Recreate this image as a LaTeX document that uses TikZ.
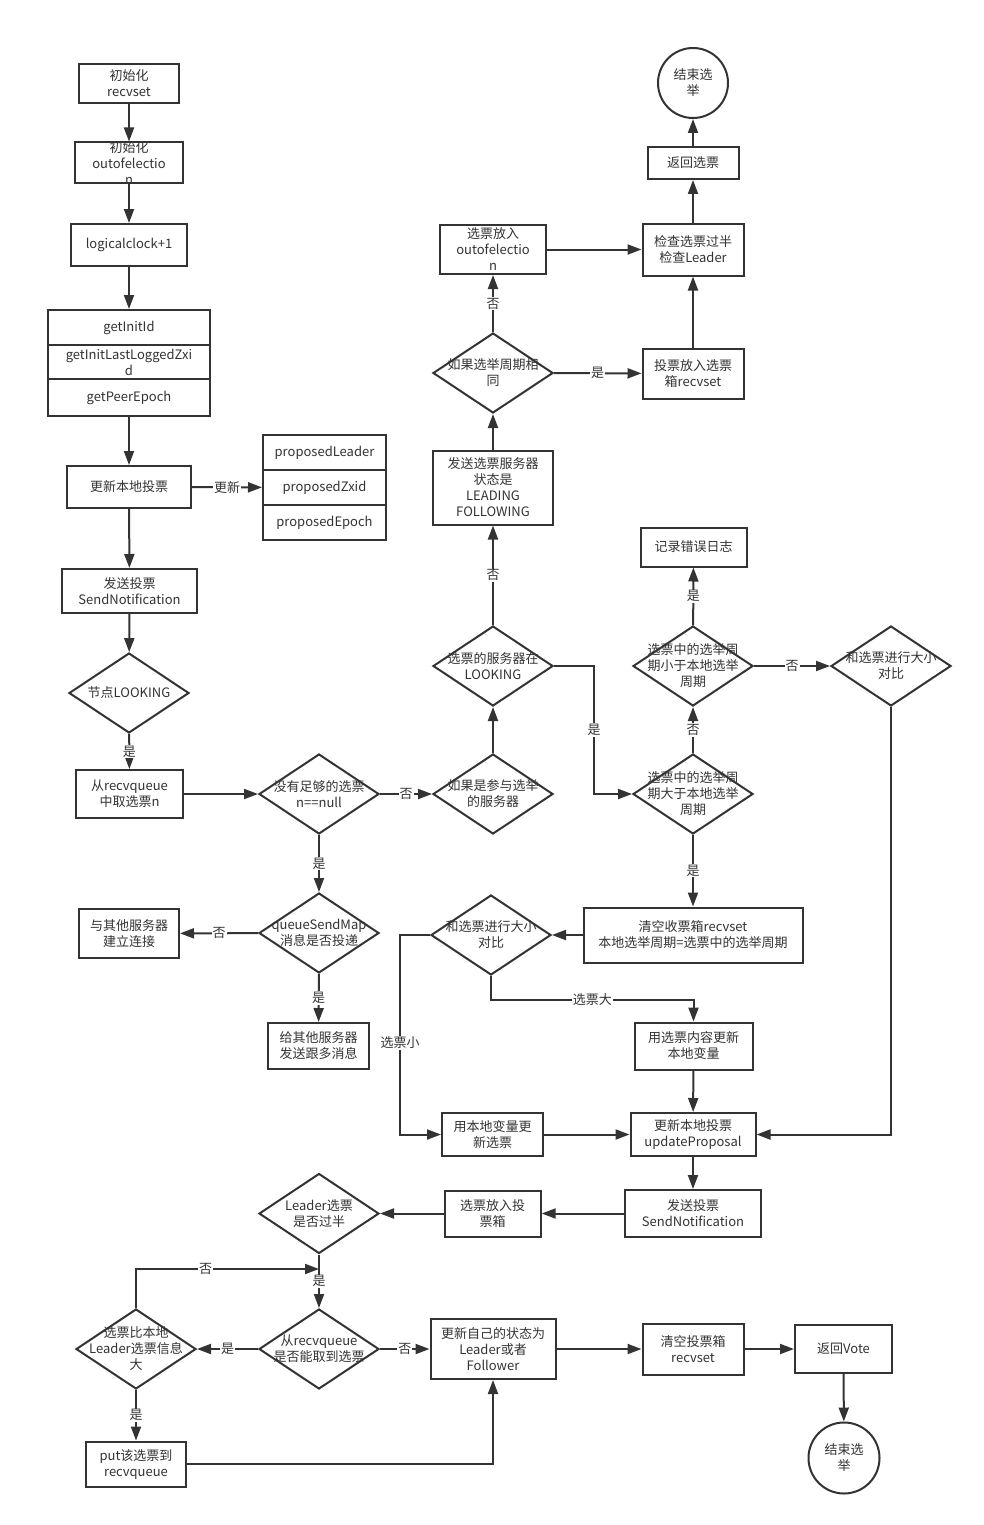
\documentclass[tikz,border=0pt]{standalone}
\usepackage{fontspec}
\setmainfont{Noto Sans CJK SC}
\usepackage{xcolor}
\usepackage{tikz}
\usetikzlibrary{shapes.geometric, arrows.meta}
\definecolor{ln}{HTML}{333333}

\begin{document}
\begin{tikzpicture}[x=1pt, y=-1pt,
    font=\fontsize{13}{16}\selectfont,
    sz/.style 2 args={minimum width=#1pt, minimum height=#2pt},
    box/.style={draw=ln, line width=2pt, fill=white, text=ln, align=center, inner sep=0pt},
    dec/.style={diamond, draw=ln, line width=2pt, fill=white, minimum width=120pt, minimum height=80pt, inner sep=0pt, label={center:{#1}}},
    stop/.style={circle, draw=ln, line width=2pt, text=ln, align=center, minimum size=70pt, inner sep=0pt},
    arr/.style={draw=ln, line width=2pt, -{Triangle[length=14pt, width=10pt]}},
    lbl/.style={fill=white, text=ln, inner sep=1pt},
    every label/.style={align=center, text=ln}]
    \useasboundingbox (0,0) rectangle (983,1525);

    % Start: init and first vote
    \node[box, sz={100}{39}] (init1) at (129,83.5) {初始化\\recvset};
    \node[box, sz={108}{41}, label=center:{初始化\\outofelectio\\n}] (init2) at (129,163) {};
    \node[box, sz={116}{42}] (logic) at (129,245) {logicalclock+1};
    \node[box, sz={162}{35}] (initid) at (129,327.5) {getInitId};
    \node[box, sz={162}{34}] (lastzxid) at (129,362) {getInitLastLoggedZxi\\d};
    \node[box, sz={162}{37}] (peerepoch) at (129,397.5) {getPeerEpoch};
    \node[box, sz={124}{42}] (upd) at (129,487) {更新本地投票};
    \node[box, sz={123}{35}] (propleader) at (324.5,452.5) {proposedLeader};
    \node[box, sz={123}{35}] (propzxid) at (324.5,487.5) {proposedZxid};
    \node[box, sz={123}{35}] (propepoch) at (324.5,522.5) {proposedEpoch};
    \node[box, sz={135}{44}] (send) at (129.5,591) {发送投票\\SendNotification};

    % Main loop
    \node[dec={节点LOOKING}] (looking) at (129,693) {};
    \node[box, sz={107}{48}] (fromq) at (129.5,794) {从recvqueue\\中取选票n};
    \node[dec={没有足够的选票\\n==null}] (noenough) at (319,794) {};
    \node[dec={queueSendMap\\消息是否投递}] (qsm) at (319,933) {};
    \node[box, sz={100}{49}] (connect) at (129,933.5) {与其他服务器\\建立连接};
    \node[box, sz={101}{46}] (sendmsg) at (318.5,1046) {给其他服务器\\发送跟多消息};

    % Vote from another server
    \node[dec={如果是参与选举\\的服务器}] (participate) at (493,794) {};
    \node[dec={选票的服务器在\\LOOKING}] (srvlooking) at (493,666) {};
    \node[box, sz={120}{74}] (leading) at (493,487.5) {发送选票服务器\\状态是\\LEADING\\FOLLOWING};
    \node[dec={如果选举周期相\\同}] (samecycle) at (493,373) {};
    \node[box, sz={106}{49}] (putout) at (493,249.5) {选票放入\\outofelectio\\n};
    \node[box, sz={101}{50}] (putrecv) at (693,373.5) {投票放入选票\\箱recvset};
    \node[box, sz={101}{52}] (check) at (693,249.5) {检查选票过半\\检查Leader};
    \node[box, sz={91}{32}] (retvote) at (693,163) {返回选票};
    \node[stop] (end1) at (693,83) {结束选\\举};

    % Election epoch compare
    \node[dec={选票中的选举周\\期大于本地选举\\周期}] (bigger) at (693,794) {};
    \node[dec={选票中的选举周\\期小于本地选举\\周期}] (smaller) at (693,666) {};
    \node[box, sz={106}{39}] (errlog) at (693.5,547) {记录错误日志};
    \node[dec={和选票进行大小\\对比}] (cmpR) at (891,666) {};
    \node[box, sz={219}{55}] (clear) at (693,935) {清空收票箱recvset\\本地选举周期=选票中的选举周期};
    \node[dec={和选票进行大小\\对比}] (cmpL) at (491,935) {};
    \node[box, sz={118}{47}] (usevote) at (693.5,1046) {用选票内容更新\\本地变量};
    \node[box, sz={101}{43}] (localupd) at (492.5,1134.5) {用本地变量更\\新选票};
    \node[box, sz={125}{43}] (updprop) at (693,1134.5) {更新本地投票\\updateProposal};
    \node[box, sz={136}{47}] (send2) at (693,1213.5) {发送投票\\SendNotification};
    \node[box, sz={96}{46}] (putbox) at (492.7,1213.5) {选票放入投\\票箱};

    % Leader check
    \node[dec={Leader选票\\是否过半}] (half) at (319,1213.5) {};
    \node[dec={从recvqueue\\是否能取到选票}] (fromq2) at (319,1349) {};
    \node[dec={选票比本地\\Leader选票信息\\大}] (localbig) at (136,1349) {};
    \node[box, sz={100}{45}] (putq) at (136,1464) {put该选票到\\recvqueue};
    \node[box, sz={125}{60}] (updstate) at (493,1349) {更新自己的状态为\\Leader或者\\Follower};
    \node[box, sz={101}{51}] (clearbox) at (693,1349) {清空投票箱\\recvset};
    \node[box, sz={97}{48}] (retv) at (843.5,1349) {返回Vote};
    \node[stop, minimum size=71pt] (end2) at (844,1458) {结束选\\举};
    \coordinate (merge) at (319,1269);

    % Arrows: start
    \draw[arr] (init1) -- (init2);
    \draw[arr] (init2) -- (logic);
    \draw[arr] (logic) -- (initid);
    \draw[arr] (peerepoch) -- (upd);
    \draw[arr] (upd) -- node[lbl] {更新} (propzxid);
    \draw[arr] (upd) -- (send);
    \draw[arr] (send) -- (looking);
    \draw[arr] (looking) -- node[lbl] {是} (fromq);
    \draw[arr] (fromq) -- (noenough);
    \draw[arr] (noenough) -- node[lbl] {是} (qsm);
    \draw[arr] (qsm) -- node[lbl] {否} (connect);
    \draw[arr] (qsm) -- node[lbl] {是} (sendmsg);
    \draw[arr] (noenough) -- node[lbl] {否} (participate);

    % Arrows: other server state
    \draw[arr] (participate) -- (srvlooking);
    \draw[arr] (srvlooking) -- node[lbl] {否} (leading);
    \draw[arr] (leading) -- (samecycle);
    \draw[arr] (samecycle) -- node[lbl] {否} (putout);
    \draw[arr] (samecycle) -- node[lbl] {是} (putrecv);
    \draw[arr] (putrecv) -- (check);
    \draw[arr] (putout) -- (check);
    \draw[arr] (check) -- (retvote);
    \draw[arr] (retvote) -- (end1);

    % Arrows: epoch compare
    \draw[arr] (srvlooking.east) -- ++(40,0) |- node[lbl, pos=0.25] {是} (bigger.west);
    \draw[arr] (bigger) -- node[lbl] {否} (smaller);
    \draw[arr] (smaller) -- node[lbl] {是} (errlog);
    \draw[arr] (smaller) -- node[lbl] {否} (cmpR);
    \draw[arr] (cmpR.south) |- (updprop.east);
    \draw[arr] (bigger) -- node[lbl] {是} (clear);
    \draw[arr] (clear) -- (cmpL);
    \draw[arr] (cmpL.west) -- ++(-30,0) |- node[lbl, pos=0.27] {选票小} (localupd.west);
    \draw[arr] (cmpL.south) -- ++(0,24) -| node[lbl, pos=0.25] {选票大} (usevote.north);
    \draw[arr] (usevote) -- (updprop);
    \draw[arr] (localupd) -- (updprop);
    \draw[arr] (updprop) -- (send2);
    \draw[arr] (send2) -- (putbox);
    \draw[arr] (putbox) -- (half);

    % Arrows: leader check
    \draw[arr] (half) -- node[lbl, pos=0.5] {是} (fromq2);
    \draw[arr] (localbig.north) |- node[lbl, pos=0.69] {否} (merge);
    \draw[arr] (fromq2) -- node[lbl] {是} (localbig);
    \draw[arr] (fromq2) -- node[lbl] {否} (updstate);
    \draw[arr] (localbig) -- node[lbl] {是} (putq);
    \draw[arr] (putq.east) -| (updstate.south);
    \draw[arr] (updstate) -- (clearbox);
    \draw[arr] (clearbox) -- (retv);
    \draw[arr] (retv) -- (end2);
\end{tikzpicture}
\end{document}
